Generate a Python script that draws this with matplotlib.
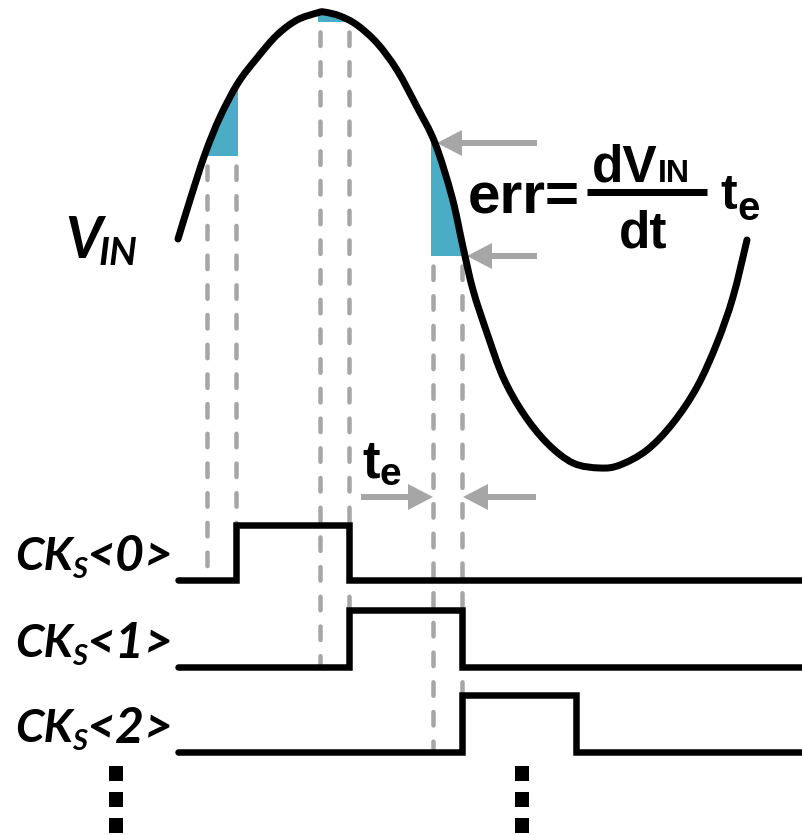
import numpy as np
import matplotlib
matplotlib.use("Agg")
import matplotlib.pyplot as plt
from matplotlib.path import Path
from matplotlib.patches import PathPatch, Rectangle, FancyArrow

# ---- V_IN waveform, traced in canvas pixels (y grows downward) ----
vin_x = [178, 190, 205, 220, 238, 257, 277, 297, 317, 324, 340, 357, 377, 397,
         417, 435, 452, 463, 473, 487, 503, 523, 547, 573, 600, 620, 647, 673,
         697, 717, 733, 747]
vin_y = [239, 200, 154, 117, 83, 58, 35, 20, 13, 12, 16, 25, 43, 70,
         107, 143, 197, 247, 290, 333, 377, 413, 443, 463, 468, 465, 450, 423,
         387, 343, 297, 240]

# ---- sampling windows (start of window, end = clock rising edge) ----
win_start = [207, 320, 433]
win_end = [236, 349, 462]
win_level = [156, 22, 256]        # held value at the end of each window

# ---- sampling clocks ----
clk_sub = ["S", "S", "S"]
clk_idx = ["<0>", "<1>", "<2>"]
clk_rise = [236, 349, 462]
clk_fall = [349, 462, 576]
clk_low = [580, 667, 752]
clk_high = [525, 610, 695]
clk_x0, clk_x1 = 178, 802

# ---- annotation arrows: (tail_x, tip_x, y) ----
err_arrows = [(537, 437, 143), (537, 467, 256)]
te_arrows = [(361, 433, 497), (536, 463, 497)]

# ---- continuation dots ----
dot_cols = [116, 522]
dot_rows = [773.5, 799.5, 825.5]

W, H = 802, 835
GREY = "#A6A6A6"
BLUE = "#4BACC6"
px = 0.72  # points per pixel at dpi 100

fig = plt.figure(figsize=(W / 100, H / 100), dpi=100)
ax = fig.add_axes([0, 0, 1, 1])
ax.set_xlim(0, W)
ax.set_ylim(H, 0)
ax.axis("off")


def smooth_path(xs, ys):
    """Catmull-Rom curve through the traced points as cubic Bezier segments."""
    p = np.column_stack([xs, ys]).astype(float)
    ext = np.vstack([p[0], p, p[-1]])
    verts = [p[0]]
    codes = [Path.MOVETO]
    for i in range(1, len(ext) - 2):
        p0, p1, p2, p3 = ext[i - 1], ext[i], ext[i + 1], ext[i + 2]
        verts += [p1 + (p2 - p0) / 6, p2 - (p3 - p1) / 6, p2]
        codes += [Path.CURVE4] * 3
    return verts, codes


verts, codes = smooth_path(vin_x, vin_y)
curve = Path(verts, codes)

# region beneath the curve (on screen), used to clip the shaded error areas
under_verts = verts + [(vin_x[-1], H + 10), (vin_x[0], H + 10), verts[0]]
under_codes = codes + [Path.LINETO, Path.LINETO, Path.CLOSEPOLY]
under = PathPatch(Path(under_verts, under_codes), fc="none", ec="none")
ax.add_patch(under)

for xs, xe, lvl in zip(win_start, win_end, win_level):
    r = Rectangle((xs - 2, -10), xe - xs + 4, lvl + 10, fc=BLUE, ec="none", zorder=2)
    ax.add_patch(r)
    r.set_clip_path(under)

ax.add_patch(PathPatch(curve, fc="none", ec="black", lw=7 * px,
                       capstyle="round", zorder=5))

# dashed sampling guides
dash_kw = dict(color=GREY, lw=4.5 * px, linestyle=(0, (3.0, 3.6)),
               dash_capstyle="round", zorder=1)
for i, (xs, xe, lvl) in enumerate(zip(win_start, win_end, win_level)):
    ax.plot([xs, xs], [lvl + 10, clk_low[i]], **dash_kw)
    ax.plot([xe, xe], [lvl + 10, clk_high[i]], **dash_kw)

# clock waveforms
for i in range(3):
    xs = [clk_x0, clk_rise[i], clk_rise[i], clk_fall[i], clk_fall[i], clk_x1]
    ys = [clk_low[i], clk_low[i], clk_high[i], clk_high[i], clk_low[i], clk_low[i]]
    ax.plot(xs, ys, color="black", lw=6.5 * px, solid_joinstyle="miter",
            solid_capstyle="round", zorder=4)

# arrows
for tail, tip, y in err_arrows + te_arrows:
    ax.add_patch(FancyArrow(tail, y, tip - tail, 0, width=6, head_width=26,
                            head_length=25, length_includes_head=True,
                            fc=GREY, ec="none", zorder=3))

# continuation dots
for cx in dot_cols:
    for cy in dot_rows:
        ax.add_patch(Rectangle((cx - 7, cy - 7.5), 14, 15, fc="black", ec="none"))

fig.canvas.draw()
rend = fig.canvas.get_renderer()
inv = ax.transData.inverted()


def put(x, y, s, size, family, weight="bold", style="normal", ha="left"):
    """Draw text with its baseline at y; returns the x just after it."""
    t = ax.text(x, y, s, fontsize=size, family=family, weight=weight,
                style=style, ha=ha, va="baseline", zorder=6)
    bb = t.get_window_extent(renderer=rend)
    return inv.transform((bb.x1, bb.y0))[0]


LAT = ["Lato", "DejaVu Sans"]
ARI = ["Liberation Sans", "DejaVu Sans"]

# V_IN label
x = put(65, 258, "V", 41, LAT, style="italic")
put(x - 3, 265, "IN", 28, LAT, style="italic")

# clock labels
for i in range(3):
    base = clk_low[i] - 10
    x = put(15, base, "CK", 33, LAT, style="italic")
    x = put(x - 1, base + 8, clk_sub[i], 21, LAT, style="italic")
    put(x - 1, base + 1, clk_idx[i], 36, LAT, style="italic")

# err = dV_IN/dt * t_e
put(468, 213, "err=", 42, ARI)
ax.plot([587, 707], [191.5, 191.5], color="black", lw=7 * px,
        solid_capstyle="butt")
x = put(592, 182, "dV", 37, ARI)
put(x, 182, "IN", 23, ARI)
put(643, 247, "dt", 37, ARI, ha="center")
x = put(720, 209, "t", 36, ARI)
put(x + 1, 220, "e", 29, ARI)

# t_e near the sampling interval
x = put(362, 478, "t", 38, ARI)
put(x, 485, "e", 28, ARI)

fig.savefig("out.png", dpi=100)
